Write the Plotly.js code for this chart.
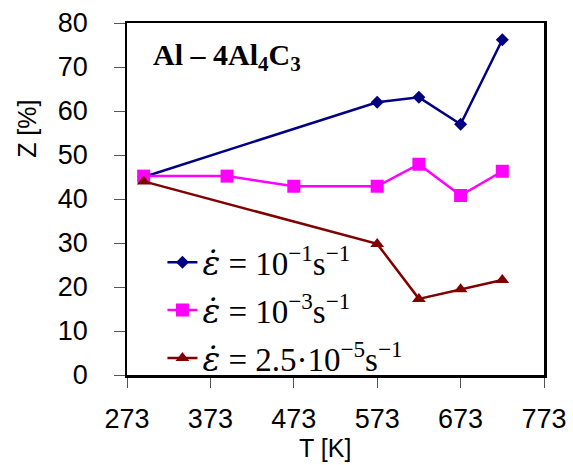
<!DOCTYPE html>
<html>
<head>
<meta charset="utf-8">
<script src="https://cdn.plot.ly/plotly-3.0.1.min.js"></script>
<style>html,body{margin:0;padding:0;background:#fff;}#chart{width:573px;height:465px;}</style>
</head>
<body>
<div id="chart"></div>
<script>
// Data
const tempFast = [293, 573, 623, 673, 723];
const zFast = [45.0, 62.0, 63.1, 57.0, 76.2];

const tempMid = [293, 393, 473, 573, 623, 673, 723];
const zMid = [45.2, 45.2, 42.9, 42.9, 47.9, 40.8, 46.3];

const tempSlow = [293, 573, 623, 673, 723];
const zSlow = [44.0, 29.8, 17.3, 19.5, 21.6];

const epsDot = "<span style=\"font-family:'DejaVu Serif'\"><i>ε̇</i></span>";
const seriesNames = [
  epsDot + " = 10<sup>−1</sup>s<sup>−1</sup>",
  epsDot + " = 10<sup>−3</sup>s<sup>−1</sup>",
  epsDot + " = 2.5·10<sup>−5</sup>s<sup>−1</sup>"
];
const xTickVals = [273, 373, 473, 573, 673, 773];
const yTickVals = [0, 10, 20, 30, 40, 50, 60, 70, 80];

const traces = [
  {x: tempFast, y: zFast, name: seriesNames[0], legendgroup: 'a', mode: 'lines+markers',
   line: {color: '#000080', width: 2.5}, marker: {symbol: 'diamond', size: 10, color: '#000080'}},
  {x: tempMid, y: zMid, name: seriesNames[1], legendgroup: 'b', mode: 'lines+markers',
   line: {color: '#FF00FF', width: 2.5}, marker: {symbol: 'square', size: 13, color: '#FF00FF'}},
  {x: tempSlow, y: zSlow, name: seriesNames[2], legendgroup: 'c', mode: 'lines+markers',
   line: {color: '#800000', width: 2.5}, marker: {symbol: 'triangle-up', size: 12, color: '#800000'}}
];

const tickFont = {family: 'Liberation Sans, Arial, sans-serif', size: 27, color: '#000'};

const layout = {
  width: 573, height: 465,
  margin: {l: 126.5, r: 29.3, t: 22.7, b: 90, pad: 0},
  paper_bgcolor: '#fff', plot_bgcolor: '#fff',
  showlegend: true,
  legend: {x: 0.085, y: 0.40, xanchor: 'left', yanchor: 'top', bgcolor: 'rgba(0,0,0,0)',
    traceorder: 'grouped', tracegroupgap: 2,
    font: {family: 'Liberation Serif, Times New Roman, serif', size: 33, color: '#000'}},
  xaxis: {range: [273, 773], tickvals: xTickVals, ticktext: xTickVals.map(String),
    showgrid: false, zeroline: false, showline: true, linecolor: '#000', linewidth: 2.5, mirror: true,
    ticks: 'outside', ticklen: 10, tickcolor: '#555', tickwidth: 1, ticklabelstandoff: 8,
    tickfont: tickFont},
  yaxis: {range: [0, 80], tickvals: yTickVals,
    ticktext: yTickVals.map(v => String(v) + '\u00a0\u00a0\u2009'),
    showgrid: false, zeroline: false, showline: true, linecolor: '#000', linewidth: 2.5, mirror: true,
    ticks: 'outside', ticklen: 11, tickcolor: '#555', tickwidth: 1,
    tickfont: tickFont},
  annotations: [
    {text: '<b>Al – 4Al<sub>4</sub>C<sub>3</sub></b>', xref: 'paper', yref: 'paper', x: 0.058, y: 0.903,
     xanchor: 'left', yanchor: 'middle', showarrow: false,
     font: {family: 'Liberation Serif, Times New Roman, serif', size: 30, color: '#000'}},
    {text: 'Z [%]', xref: 'paper', yref: 'paper', x: -0.2385, y: 0.698, textangle: -90,
     xanchor: 'center', yanchor: 'middle', showarrow: false,
     font: {family: 'Liberation Sans, Arial, sans-serif', size: 25, color: '#000'}},
    {text: 'T [K]', xref: 'paper', yref: 'paper', x: 0.476, y: -0.207,
     xanchor: 'center', yanchor: 'middle', showarrow: false,
     font: {family: 'Liberation Sans, Arial, sans-serif', size: 25, color: '#000'}}
  ]
};

Plotly.newPlot('chart', traces, layout, {displayModeBar: false, staticPlot: true});
</script>
</body>
</html>
